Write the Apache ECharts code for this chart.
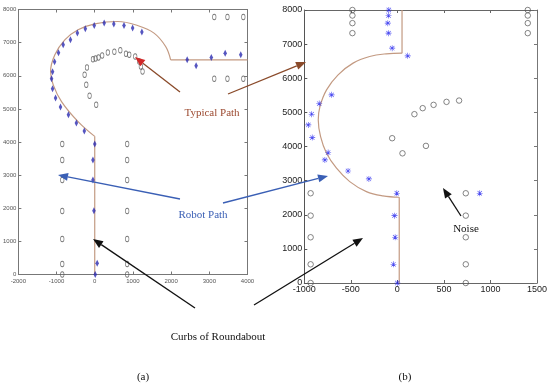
<!DOCTYPE html>
<html><head><meta charset="utf-8">
<script src="https://cdn.jsdelivr.net/npm/echarts@6/dist/echarts.min.js"></script>
<style>html,body{margin:0;padding:0;background:#fff}#c{width:550px;height:385px}</style>
</head><body><div id="c"></div>
<script>
// ---------- Data: panel (a) ----------
const aCurbVertical = [[0,0],[0,4170]];
const aCurbArc = [[0,4170],[-436,4616],[-870,5220],[-1086,5725],[-1156,6127],[-1044,6631],[-784,7085],[-436,7387],[0,7568],[603,7637],[1122,7517],[1553,7287],[1857,6882],[1987,6480]];
const aCurbHorizontal = [[1987,6480],[4000,6480]];
const aRobotPath = [[1234,7317],[992,7438],[766,7517],[499,7559],[247,7589],[-13,7517],[-247,7417],[-455,7287],[-636,7085],[-826,6934],[-948,6692],[-1052,6420],[-1104,6118],[-1130,5906],[-1104,5604],[-1026,5332],[-896,5060],[-688,4819],[-481,4577],[-273,4335],[0,3943],[-47,3459],[-47,2855],[-21,1927],[65,338],[13,0],[2421,6480],[2655,6299],[3052,6550],[3416,6683],[3823,6631]];
const aObstacles = [[-850,3943],[-850,3459],[-850,2855],[-850,1918],[-850,1072],[-850,317],[-850,0],
  [850,3943],[850,3459],[850,2855],[850,1918],[850,1072],[850,317],[850,0],
  [3130,7770],[3475,7770],[3891,7770],[3130,5906],[3475,5906],[3891,5906],
  [39,5121],[-135,5393],[-221,5725],[-265,6027],[-203,6248],[-47,6501],[21,6520],[99,6550],[195,6610],[343,6701],[514,6722],[670,6773],[818,6662],[904,6631],[1060,6580],[1164,6429],[1208,6278],[1252,6127]];
const aXTicks = [-2000,-1000,0,1000,2000,3000,4000];
const aYTicks = [0,1000,2000,3000,4000,5000,6000,7000,8000];

// ---------- Data: panel (b) ----------
const bCurbTop = [[50,8000],[50,6736]];
const bCurbArc = [[51,6736],[-120,6716],[-298,6636],[-476,6443],[-637,6100],[-761,5660],[-832,5170],[-850,4780],[-825,4290],[-761,3804],[-654,3364],[-512,2971],[-333,2677],[-156,2551],[20,2513]];
const bCurbBottom = [[20,2513],[20,0]];
const bRobotPath = [[-92,8000],[-95,7838],[-103,7615],[-95,7322],[-56,6882],[111,6657],[-707,5513],[-840,5258],[-921,4947],[-957,4633],[-915,4261],[-744,3822],[-779,3607],[-530,3284],[-306,3050],[-6,2630],[-31,1974],[-24,1340],[-42,548],[0,0],[885,2630]];
const bObstacles = [[-483,8000],[-483,7838],[-483,7615],[-483,7322],[-932,2630],[-932,1974],[-932,1340],[-932,548],[-932,0],
  [-56,4243],[55,3800],[1401,8000],[1401,7838],[1401,7615],[1401,7322],
  [183,4947],[272,5123],[389,5220],[528,5308],[663,5346],[307,4018],
  [735,2630],[735,1974],[735,1340],[735,548],[735,0]];
const bXTicks = [-1000,-500,0,500,1000,1500];
const bYTicks = [0,1000,2000,3000,4000,5000,6000,7000,8000];

const curbColor = '#c39a82';
const starPath = 'path://M4.5,0L5.5,0L5.5,10L4.5,10Z M0,4.5L10,4.5L10,5.5L0,5.5Z M1,1.7L1.7,1L9,8.3L8.3,9Z M8.3,1L9,1.7L1.7,9L1,8.3Z';

const chart = echarts.init(document.getElementById('c'), null, {renderer:'canvas'});

function mkX(grid, min, max, interval, pos, show, fs, col, margin, lineCol){
  return {type:'value', gridIndex:grid, min:min, max:max, interval:interval, position:pos,
    axisLine:{show:true, onZero:false, lineStyle:{color:lineCol, width:1}},
    axisTick:{show:true, inside:true, length:3, lineStyle:{color:lineCol}},
    axisLabel:{show:show, fontSize:fs, color:col, margin:margin, fontFamily:'Arial', formatter:function(v){return String(v);}},
    splitLine:{show:false}};
}

function arrow(x1,y1,x2,y2,color,headColor){
  const a = Math.atan2(y2-y1,x2-x1), L=10, W=4;
  const bx = x2 - L*Math.cos(a), by = y2 - L*Math.sin(a);
  return [
    {type:'line', shape:{x1:x1,y1:y1,x2:bx,y2:by}, style:{stroke:color, lineWidth:1.3}, z:100},
    {type:'polygon', shape:{points:[[x2,y2],[bx+W*Math.sin(a), by-W*Math.cos(a)],[bx-W*Math.sin(a), by+W*Math.cos(a)]]}, style:{fill:headColor||color}, z:100}
  ];
}
function label(text,x,y,color){
  return {type:'text', x:x, y:y, z:101, style:{text:text, fill:color, font:'11px "Liberation Serif"', textAlign:'center', textVerticalAlign:'middle'}};
}

const graphics = [].concat(
  arrow(180,92,135,57,'#8a4a2a','#d02828'),
  arrow(228,94,306,62,'#8a4a2a','#8a4a2a'),
  arrow(180,199,58,175,'#3a5fb5'),
  arrow(223,203,328,176,'#3a5fb5'),
  arrow(461,216,443,188,'#111'),
  arrow(195,308,93,239,'#111'),
  arrow(254,305,363,238,'#111'),
  [label('Typical Path',212,113,'#9c4a30'),
   label('Robot Path',203,215,'#3a5fb5'),
   label('Noise',466,229,'#111'),
   label('Curbs of Roundabout',218,337,'#111'),
   label('(a)',143,377,'#111'),
   label('(b)',405,377,'#111')]
);

chart.setOption({
  animation:false,
  backgroundColor:'#fff',
  grid:[
    {left:16.5, top:9.5, width:231, height:265},
    {left:304.3, top:10, width:234, height:273}
  ],
  xAxis:[
    mkX(0, aXTicks[0], aXTicks[aXTicks.length-1], 1000, 'bottom', true, 6, '#555', 4, '#777'),
    mkX(0, aXTicks[0], aXTicks[aXTicks.length-1], 1000, 'top', false, 6, '#555', 4, '#777'),
    mkX(1, bXTicks[0], bXTicks[bXTicks.length-1], 500, 'bottom', true, 9, '#222', 2, '#666'),
    mkX(1, bXTicks[0], bXTicks[bXTicks.length-1], 500, 'top', false, 9, '#222', 2, '#666')
  ],
  yAxis:[
    mkX(0, aYTicks[0], aYTicks[aYTicks.length-1], 1000, 'left', true, 6, '#555', 2, '#777'),
    mkX(0, aYTicks[0], aYTicks[aYTicks.length-1], 1000, 'right', false, 6, '#555', 2, '#777'),
    mkX(1, bYTicks[0], bYTicks[bYTicks.length-1], 1000, 'left', true, 9, '#222', 2, '#555'),
    mkX(1, bYTicks[0], bYTicks[bYTicks.length-1], 1000, 'right', false, 9, '#222', 2, '#777')
  ],
  series:[
    {type:'line', xAxisIndex:0, yAxisIndex:0, data:aCurbVertical, symbol:'none', lineStyle:{color:curbColor, width:1.2}},
    {type:'line', xAxisIndex:0, yAxisIndex:0, data:aCurbArc, symbol:'none', smooth:0.4, lineStyle:{color:curbColor, width:1.2}},
    {type:'line', xAxisIndex:0, yAxisIndex:0, data:aCurbHorizontal, symbol:'none', lineStyle:{color:curbColor, width:1.2}},
    {type:'scatter', xAxisIndex:0, yAxisIndex:0, data:aObstacles, clip:false, symbol:'circle', symbolSize:[3.5,5.5], itemStyle:{color:'rgba(255,255,255,0)', borderColor:'#555', borderWidth:0.8}, z:5},
    {type:'scatter', xAxisIndex:0, yAxisIndex:0, data:aRobotPath, clip:false, symbol:'diamond', symbolSize:[3.5,7], itemStyle:{color:'#2a2ab0'}, z:6},
    {type:'line', xAxisIndex:2, yAxisIndex:2, data:bCurbTop, symbol:'none', lineStyle:{color:curbColor, width:1.2}},
    {type:'line', xAxisIndex:2, yAxisIndex:2, data:bCurbArc, symbol:'none', smooth:0.4, lineStyle:{color:curbColor, width:1.2}},
    {type:'line', xAxisIndex:2, yAxisIndex:2, data:bCurbBottom, symbol:'none', lineStyle:{color:curbColor, width:1.2}},
    {type:'scatter', xAxisIndex:2, yAxisIndex:2, data:bObstacles, clip:false, symbol:'circle', symbolSize:5.5, itemStyle:{color:'rgba(255,255,255,0)', borderColor:'#555', borderWidth:0.9}, z:5},
    {type:'scatter', xAxisIndex:2, yAxisIndex:2, data:bRobotPath, clip:false, symbol:starPath, symbolSize:6, itemStyle:{color:'#2020ee'}, z:6}
  ],
  graphic:graphics
});
</script>
</body></html>
